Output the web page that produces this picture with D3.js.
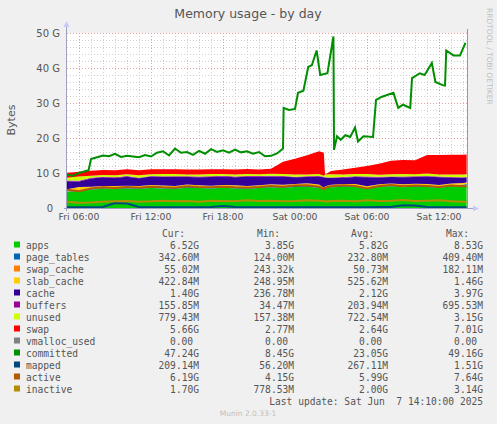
<!DOCTYPE html>
<html><head><meta charset="utf-8">
<script src="https://cdn.jsdelivr.net/npm/d3@7"></script>
<style>body{margin:0;background:#f0f0f0}svg{display:block}</style>
</head><body><svg id="c" width="497" height="424"></svg>
<script>
// hours since Fri 05:00
const hours = [0,1,2,3,4,5,6,7,8,9,10,11,12,13,14,15,16,17,18,19,20,21,21.4,21.5,22,23,24,25,26,27,28,29,30,31,32,33,33.3];
const apps       = [4.6,4.9,5.3,5.5,5.4,5.6,5.5,5.7,5.6,5.5,5.8,5.7,5.6,5.8,5.6,5.5,5.7,5.9,5.8,6.0,6.1,5.8,5.2,5.6,5.9,6.1,6.0,5.4,6.0,6.2,5.9,6.1,6.0,5.7,6.2,6.3,6.5];
const page_tables= [0.15,0.16,0.2,0.22,0.2,0.21,0.23,0.22,0.24,0.23,0.25,0.24,0.22,0.25,0.24,0.26,0.25,0.27,0.26,0.28,0.27,0.29,0.2,0.2,0.22,0.24,0.25,0.23,0.26,0.28,0.27,0.3,0.31,0.32,0.33,0.34,0.34];
const swap_cache = [0.02,0.03,0.05,0.04,0.06,0.05,0.04,0.05,0.06,0.05,0.04,0.05,0.06,0.05,0.04,0.05,0.06,0.05,0.07,0.08,0.1,0.12,0.0,0.0,0.02,0.03,0.04,0.05,0.06,0.05,0.04,0.05,0.06,0.05,0.06,0.05,0.055];
const slab_cache = [0.6,0.9,0.5,0.5,0.6,0.5,0.5,0.6,0.5,0.5,0.6,0.5,0.5,0.5,0.6,0.5,0.5,0.6,0.5,0.5,0.6,0.5,0.4,0.4,0.5,0.5,0.6,0.5,0.5,0.5,0.6,0.5,0.5,0.5,0.4,0.42,0.42];
const cache      = [2.3,1.6,2.4,2.5,2.3,2.6,2.2,2.4,2.5,2.6,2.2,2.3,2.5,2.4,2.3,2.6,2.4,2.2,2.3,1.9,1.8,2.2,3.0,2.5,1.9,1.8,2.0,2.6,1.9,1.8,2.0,1.9,2.1,2.2,1.7,1.5,1.4];
const buffers    = [0.2,0.2,0.2,0.2,0.2,0.2,0.2,0.2,0.2,0.2,0.2,0.2,0.2,0.2,0.2,0.2,0.2,0.2,0.2,0.2,0.2,0.2,0.1,0.1,0.2,0.2,0.2,0.2,0.2,0.2,0.2,0.2,0.2,0.2,0.2,0.16,0.16];
const unused     = [0.8,1.2,0.6,0.5,0.6,0.5,0.7,0.5,0.6,0.6,0.5,0.6,0.6,0.5,0.6,0.6,0.5,0.6,0.6,0.6,0.5,0.6,0.3,0.8,0.9,0.7,0.6,0.7,0.6,0.6,0.7,0.6,0.7,0.6,0.7,0.78,0.78];
const swap       = [1.4,1.4,1.4,1.4,1.4,1.4,1.4,1.4,1.4,1.4,1.4,1.4,1.4,1.4,1.4,1.4,1.4,1.4,3.5,4.5,5.5,6.5,6.6,0.0,0.9,1.4,1.8,2.3,3.1,3.9,4.0,4.0,5.3,5.6,5.6,5.66,5.66];
const mapped     = [0.2,0.2,0.25,0.3,1.4,1.3,0.3,0.25,0.25,0.25,0.25,0.25,0.3,0.6,0.3,0.25,0.25,0.25,0.25,0.25,0.25,0.25,0.2,0.2,0.2,0.2,0.25,0.25,0.3,0.3,0.8,0.7,0.3,0.25,0.25,0.21,0.21];
const active     = [5.2,4.8,5.6,5.9,5.7,6.0,5.8,6.1,5.9,5.8,6.2,6.0,5.9,6.1,5.9,5.8,6.0,6.3,6.1,6.4,6.5,6.1,5.3,5.8,6.2,6.5,6.3,5.6,6.3,6.6,6.2,6.4,6.3,6.0,6.4,6.2,6.19];
const inactive   = [1.8,1.5,1.6,1.8,1.9,2.0,1.8,1.9,2.1,1.9,2.0,1.8,2.1,2.0,1.9,2.2,2.0,2.1,1.9,2.0,2.2,2.1,2.0,1.8,2.0,2.1,1.9,2.2,2.0,2.1,2.3,2.0,2.1,2.2,1.9,1.8,1.7];
const committedHours = [0,0.5,1,1.5,1.8,2,2.5,3,3.5,4,4.5,5,6,6.5,7,7.5,8,8.5,9,9.5,10,10.5,11,11.5,12,12.5,13,13.5,14,14.5,15,15.5,16,16.5,17,17.5,18,18.05,18.5,19,19.25,19.7,20.1,20.4,20.8,21.1,21.7,22.2,22.25,22.5,22.8,23.2,23.6,24,24.25,24.7,25.5,25.75,26.25,27.2,27.6,28,28.6,28.75,29.4,29.8,30.4,30.7,31.3,31.5,31.6,32.2,32.75,33.2];
const committed = [9.5,9.2,10.0,10.5,10.8,14.0,14.5,15.0,14.8,15.5,14.6,14.9,14.5,15.1,14.7,15.8,16.2,15.0,17.0,15.8,16.0,15.2,16.3,15.5,16.8,16.0,16.5,15.8,16.7,15.9,16.2,15.5,16.0,14.8,14.9,15.6,17.0,28.6,28.0,28.3,32.9,33.5,40.3,40.8,45.0,38.0,38.5,49.0,16.6,20.5,19.5,20.8,20.3,23.0,19.0,20.5,20.3,30.9,31.8,32.9,28.6,29.5,28.6,37.1,38.5,38.0,41.4,36.0,35.1,35.0,45.0,43.6,43.6,47.2];
const xTickLabels = ["Fri 06:00","Fri 12:00","Fri 18:00","Sat 00:00","Sat 06:00","Sat 12:00"];
const yTickLabels = ["0","10 G","20 G","30 G","40 G","50 G"];
const legendNames = ["apps","page_tables","swap_cache","slab_cache","cache","buffers","unused","swap","vmalloc_used","committed","mapped","active","inactive"];
const legendColors= ["#00CC00","#0066B3","#FF8000","#FFCC00","#330099","#990099","#CCFF00","#FF0000","#808080","#008F00","#00487D","#B35A00","#B38F00"];
const curVals = ["6.52G","342.60M","55.02M","422.84M","1.40G","155.85M","779.43M","5.66G","0.00","47.24G","209.14M","6.19G","1.70G"];
const minVals = ["3.85G","124.00M","243.32k","248.95M","236.78M","34.47M","157.38M","2.77M","0.00","8.45G","56.20M","4.15G","778.53M"];
const avgVals = ["5.82G","232.80M","50.73M","525.62M","2.12G","203.94M","722.54M","2.64G","0.00","23.05G","267.11M","5.99G","2.00G"];
const maxVals = ["8.53G","409.40M","182.11M","1.46G","3.97G","695.53M","3.15G","7.01G","0.00","49.16G","1.51G","7.64G","3.14G"];

const svg = d3.select("#c");
const L=67,R=467,T=33,B=208;
const x = d3.scaleLinear().domain([0,33.33]).range([L,R]);
const y = d3.scaleLinear().domain([0,50]).range([B,T]);
svg.append("rect").attr("x",L).attr("y",T).attr("width",R-L).attr("height",B-T).attr("fill","#fff");
const g = svg.append("g");
for(let h=1;h<=33;h++){const maj=(h-1)%6===0;
 g.append("line").attr("x1",x(h)).attr("x2",x(h)).attr("y1",T).attr("y2",B).attr("stroke",maj?"#e8a0a0":"#d0d0d0").attr("stroke-dasharray","1,2").attr("stroke-width",1).attr("shape-rendering","crispEdges");}
for(let v=2;v<=50;v+=2){const maj=v%10===0;
 g.append("line").attr("x1",L).attr("x2",R).attr("y1",y(v)).attr("y2",y(v)).attr("stroke",maj?"#e8a0a0":"#d0d0d0").attr("stroke-dasharray","1,2").attr("shape-rendering","crispEdges");}
const keys=["apps","page_tables","swap_cache","slab_cache","cache","buffers","unused","swap"];
const src={apps,page_tables,swap_cache,slab_cache,cache,buffers,unused,swap};
const rows=hours.map((h,i)=>{const o={h};keys.forEach(k=>o[k]=src[k][i]);return o;});
const st=d3.stack().keys(keys)(rows);
const area=d3.area().x(d=>x(d.data.h)).y0(d=>y(d[0])).y1(d=>y(d[1]));
st.forEach((s,i)=>svg.append("path").attr("d",area(s)).attr("fill",legendColors[i]));
const line=d3.line().x(d=>x(d[0])).y(d=>y(d[1]));
[[mapped,10],[active,11],[inactive,12]].forEach(([arr,ci])=>
 svg.append("path").attr("d",line(hours.map((h,i)=>[h,arr[i]]))).attr("fill","none").attr("stroke",legendColors[ci]).attr("stroke-width",2));
svg.append("path").attr("d",line(committedHours.map((h,i)=>[h,committed[i]]))).attr("fill","none").attr("stroke",legendColors[9]).attr("stroke-width",2);
const ax=svg.append("g").attr("stroke","#a0a0c0");
ax.append("line").attr("x1",L-0.5).attr("x2",L-0.5).attr("y1",B+3).attr("y2",T-8);
ax.append("line").attr("x1",L-3).attr("x2",R+8).attr("y1",B+0.5).attr("y2",B+0.5);
svg.append("path").attr("d",`M${L-3.5},${T-6}L${L-0.5},${T-12}L${L+2.5},${T-6}Z`).attr("fill","#c8c8ff");
svg.append("path").attr("d",`M${R+6},${B-2.5}L${R+12},${B+0.5}L${R+6},${B+3.5}Z`).attr("fill","#c8c8ff");
svg.append("line").attr("x1",R+0.5).attr("x2",R+0.5).attr("y1",T-4).attr("y2",B).attr("stroke","#999");
const tf="DejaVu Sans";
yTickLabels.forEach((t,i)=>svg.append("text").attr("x",i===0?L-14:L-7).attr("y",y(i*10)+4).attr("text-anchor","end").attr("font-family",tf).attr("font-size",10).attr("fill","#555").text(t));
xTickLabels.forEach((t,i)=>svg.append("text").attr("x",x(1+i*6)).attr("y",B+12).attr("text-anchor","middle").attr("font-family",tf).attr("font-size",9.3).attr("fill","#555").text(t));
svg.append("text").attr("x",248).attr("y",18).attr("text-anchor","middle").attr("font-family",tf).attr("font-size",12.5).attr("fill","#555").text("Memory usage - by day");
svg.append("text").attr("transform","translate(15,120) rotate(-90)").attr("text-anchor","middle").attr("font-family",tf).attr("font-size",11).attr("fill","#555").text("Bytes");
svg.append("text").attr("transform","translate(487,8) rotate(90)").attr("font-family",tf).attr("font-size",7.5).attr("fill","#c0c0c0").text("RRDTOOL / TOBI OETIKER");
const mf="DejaVu Sans Mono",fs=9.6;
[["Cur:",185],["Min:",280],["Avg:",374],["Max:",469]].forEach(([t,xx])=>svg.append("text").attr("x",xx).attr("y",237).attr("text-anchor","end").attr("font-family",mf).attr("font-size",fs).attr("fill","#555").text(t));
legendNames.forEach((n,i)=>{const yy=249+i*12;
 svg.append("rect").attr("x",14).attr("y",yy-7.5).attr("width",6).attr("height",6).attr("fill",legendColors[i]);
 svg.append("text").attr("x",26).attr("y",yy).attr("font-family",mf).attr("font-size",fs).attr("fill","#555").text(n);
 const pad=n==="vmalloc_used"?-6:0;
 [[curVals,199],[minVals,294],[avgVals,388],[maxVals,483]].forEach(([a,xx])=>svg.append("text").attr("x",xx+pad).attr("y",yy).attr("text-anchor","end").attr("font-family",mf).attr("font-size",fs).attr("fill","#555").text(a[i]));
});
svg.append("text").attr("x",483).attr("y",405).attr("text-anchor","end").attr("font-family",mf).attr("font-size",fs).attr("fill","#555").attr("xml:space","preserve").style("white-space","pre").text("Last update: Sat Jun  7 14:10:00 2025");
svg.append("text").attr("x",248).attr("y",416).attr("text-anchor","middle").attr("font-family",tf).attr("font-size",7.5).attr("fill","#c0c0c0").text("Munin 2.0.33-1");
</script></body></html>
